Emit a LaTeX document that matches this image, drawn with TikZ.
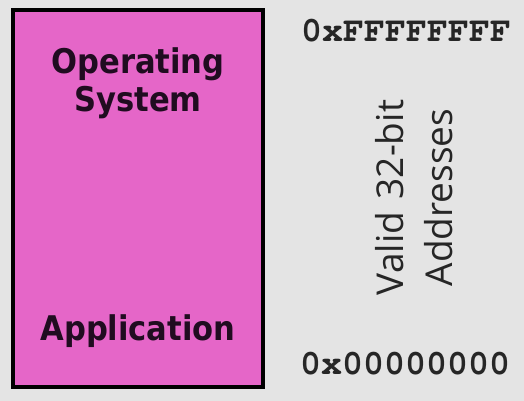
\documentclass[tikz,border=0pt]{standalone}
\usepackage{fontspec}
\setmainfont{DejaVu Sans}
\newfontfamily\boxfont{DejaVu Sans Condensed Bold}
\newfontfamily\labelfont{Open Sans}
\newfontfamily\addrfont{TeX Gyre Cursor}
\definecolor{bggray}{RGB}{228,228,228}
\definecolor{memfill}{RGB}{229,102,200}
\definecolor{inkdark}{RGB}{32,12,32}
\tikzset{
  membox/.style={draw=black, line width=4pt, fill=memfill},
  boxlabel/.style={font=\boxfont\fontsize{34}{38}\selectfont, text=inkdark, inner sep=0pt, align=center},
  addrlabel/.style={font=\addrfont\bfseries\fontsize{35}{40}\selectfont, text=black!85, inner sep=0pt, anchor=base},
  sidelabel/.style={font=\labelfont\fontsize{37}{49}\selectfont, text=black!85, inner sep=0pt, align=center, rotate=90}
}
\begin{document}
\begin{tikzpicture}[x=1pt,y=-1pt]
\fill[bggray] (0,0) rectangle (524,401);
\useasboundingbox (0,0) rectangle (524,401);
\draw[membox] (13,10) rectangle (263,387);
\node[boxlabel, anchor=base] (os) at (138,111) {Operating\\System};
\node[boxlabel, anchor=base] (app) at (138,340) {Application};
\node[addrlabel] (top) at (406,42) {0xFFFFFFFF};
\node[addrlabel] (bot) at (405,374) {0x00000000};
\node[sidelabel] (valid) at (414,197.5) {Valid\hspace{3pt} 32-bit\\Addresses};
\end{tikzpicture}
\end{document}
